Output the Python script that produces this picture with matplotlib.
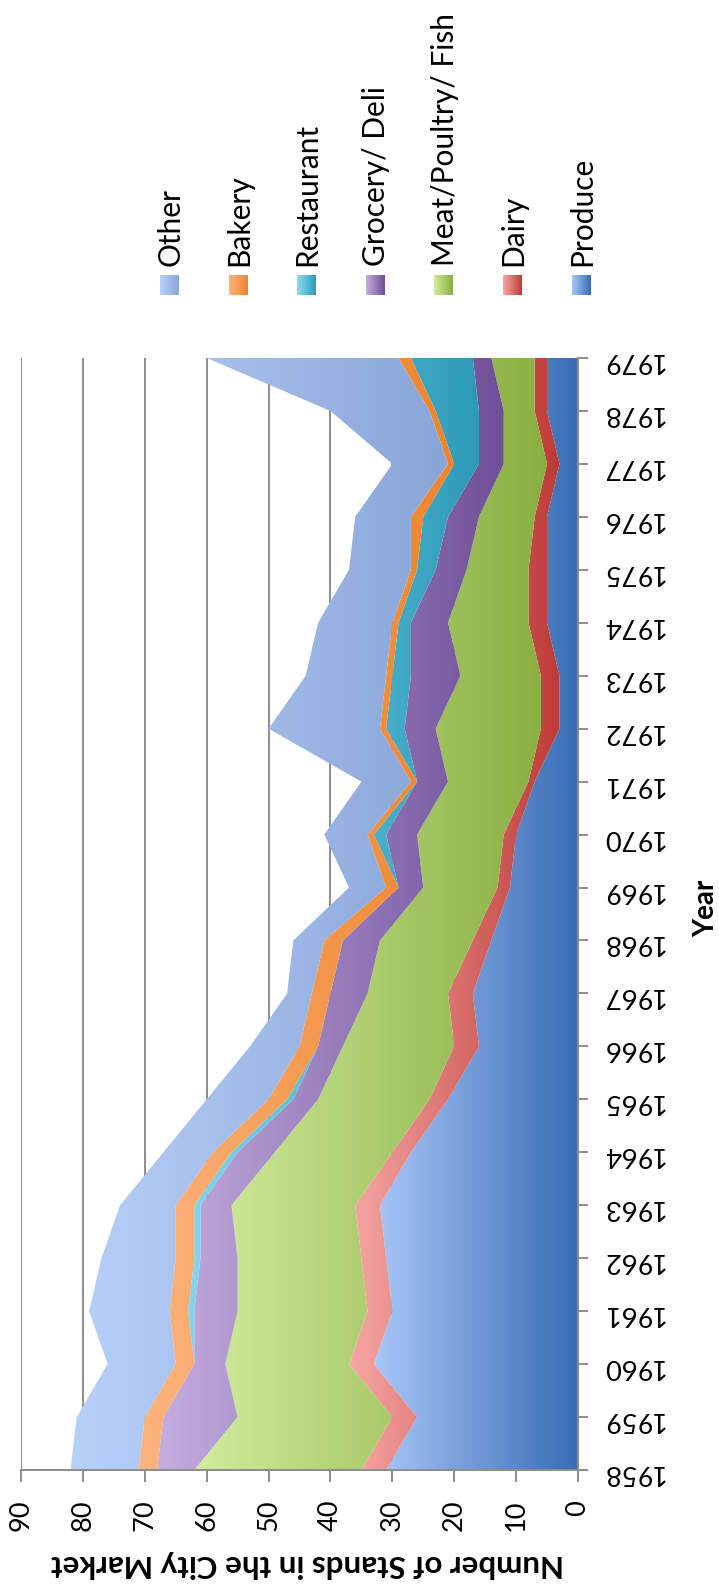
import numpy as np
import matplotlib
matplotlib.use("Agg")
import matplotlib.pyplot as plt
from matplotlib.colors import LinearSegmentedColormap
from matplotlib.patches import PathPatch

plt.rcParams['font.family'] = ['Lato', 'DejaVu Sans']

# ---------------- data ----------------
years = list(range(1958, 1980))
produce    = [31, 26, 33, 30, 31, 32, 27, 21, 16, 17, 14, 11, 10, 7, 3, 3, 5, 5, 5, 3, 5, 5]
dairy      = [4, 4, 4, 4, 4, 4, 3, 3, 4, 4, 3, 2, 2, 1, 3, 3, 3, 3, 2, 2, 2, 2]
meat       = [27, 25, 20, 21, 20, 20, 19, 18, 18, 13, 15, 12, 14, 13, 17, 13, 13, 10, 9, 7, 5, 7]
grocery    = [6, 12, 5, 7, 6, 5, 6, 4, 4, 6, 6, 4, 5, 5, 5, 8, 6, 5, 5, 4, 4, 3]
restaurant = [0, 0, 0, 1, 1, 1, 1, 1, 0, 0, 0, 0, 2, 0, 3, 3, 2, 3, 4, 4, 7, 10]
bakery     = [3, 3, 3, 3, 3, 3, 3, 3, 3, 3, 3, 2, 1, 1, 1, 1, 1, 1, 2, 1, 1, 2]
other      = [11, 11, 11, 13, 12, 9, 8, 10, 8, 4, 5, 6, 7, 8, 18, 13, 12, 10, 9, 9, 16, 31]

series_names = ["Produce", "Dairy", "Meat/Poultry/ Fish", "Grocery/ Deli",
                "Restaurant", "Bakery", "Other"]
series_values = [produce, dairy, meat, grocery, restaurant, bakery, other]
# (light, dark) gradient colours
series_colors = [("#a9c7f8", "#376cb4"),
                 ("#f7a8a6", "#bd3a36"),
                 ("#d1ed9e", "#8aae40"),
                 ("#c5aee0", "#6f4f98"),
                 ("#8cdcf2", "#2c9ab7"),
                 ("#fcb47e", "#ef842a"),
                 ("#b8d1f9", "#89a5d7")]
value_ticks = list(range(0, 100, 10))

W, H = 719, 1587
fig = plt.figure(figsize=(W / 100, H / 100), dpi=100)

# ---------------- legend (drawn in pixel space) ----------------
axl = fig.add_axes([0, 0, 1, 1])
axl.set_xlim(0, W)
axl.set_ylim(H, 0)
axl.axis('off')
axl.patch.set_visible(False)
leg_order = list(range(len(series_names)))[::-1]  # Other ... Produce
leg_x0, leg_dx = 169.6, 68.55
grad = np.linspace(0, 1, 256).reshape(1, -1)
for k, i in enumerate(leg_order):
    cx = leg_x0 + k * leg_dx
    light, dark = series_colors[i]
    cm = LinearSegmentedColormap.from_list("c%d" % i, [light, dark])
    axl.imshow(grad, cmap=cm, extent=[cx - 9.3, cx + 9.3, 295, 275],
               aspect='auto', interpolation='bicubic')
    axl.text(cx + 10.0, 266, series_names[i], rotation=90, rotation_mode='anchor',
             ha='left', va='baseline', fontsize=21.5, color='#000000')

# ---------------- main axes ----------------
left, right, top, bottom = 21, 578, 358, 1470
ax = fig.add_axes([left / W, 1 - bottom / H, (right - left) / W, (bottom - top) / H])

yr = np.array(years, dtype=float)
cum = np.zeros(len(years))
for i, vals in enumerate(series_values):
    lower = cum.copy()
    upper = cum + np.array(vals, dtype=float)
    poly = ax.fill_betweenx(yr, lower, upper, facecolor='none', edgecolor='none',
                            linewidth=0)
    patch = PathPatch(poly.get_paths()[0], transform=ax.transData,
                      facecolor='none', edgecolor='none')
    ax.add_patch(patch)
    light, dark = series_colors[i]
    cm = LinearSegmentedColormap.from_list("s%d" % i, [dark, light])
    im = ax.imshow(grad, cmap=cm, extent=[lower.min(), upper.max(), yr[0], yr[-1]],
                   aspect='auto', origin='lower', interpolation='bicubic', zorder=2)
    im.set_clip_path(patch)
    cum = upper

ax.set_xlim(90, 0)
ax.set_ylim(years[0], years[-1])
ax.set_xticks(value_ticks)
ax.set_xticklabels([str(v) for v in value_ticks], rotation=90)
ax.set_yticks(years)
ax.set_yticklabels([str(y) for y in years], rotation=180)
ax.yaxis.tick_right()

gc = '#8c8c8c'
ax.grid(axis='x', color=gc, linewidth=1.4, zorder=0)
ax.set_axisbelow(True)
for s in ['top', 'left']:
    ax.spines[s].set_visible(False)
for s in ['right', 'bottom']:
    ax.spines[s].set_color(gc)
    ax.spines[s].set_linewidth(1.4)
    ax.spines[s].set_zorder(3)
ax.tick_params(axis='x', direction='out', length=8.5, width=1.4, color=gc,
               labelsize=19.5, pad=13)
ax.tick_params(axis='y', direction='out', length=7.5, width=1.4, color=gc,
               labelsize=19.5, pad=9)

fig.text(307 / W, 1 - 1564 / H, "Number of Stands in the City Market", rotation=180,
         ha='center', va='center', fontsize=22.5, fontweight='bold')
fig.text(706 / W, 1 - 908 / H, "Year", rotation=90, ha='center', va='center',
         fontsize=20, fontweight='bold')

fig.savefig("out.png", dpi=100)
